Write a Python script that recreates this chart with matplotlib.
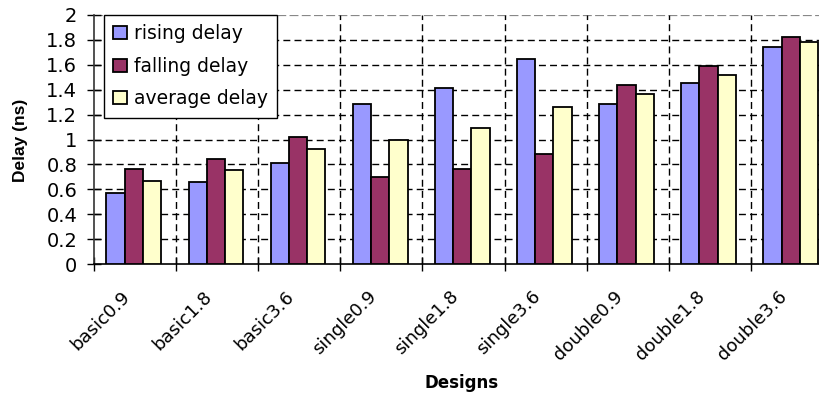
import matplotlib
matplotlib.use("Agg")
import matplotlib.pyplot as plt
import matplotlib.transforms as mtransforms
import numpy as np

designs = ["basic0.9", "basic1.8", "basic3.6", "single0.9", "single1.8",
           "single3.6", "double0.9", "double1.8", "double3.6"]
rising = [0.57, 0.655, 0.81, 1.285, 1.415, 1.645, 1.285, 1.455, 1.74]
falling = [0.765, 0.845, 1.02, 0.695, 0.76, 0.885, 1.44, 1.59, 1.82]
average = [0.67, 0.755, 0.92, 1.0, 1.09, 1.26, 1.365, 1.52, 1.78]
series_names = ["rising delay", "falling delay", "average delay"]
colors = ["#9999FF", "#993366", "#FFFFCC"]
yticks = [0, 0.2, 0.4, 0.6, 0.8, 1, 1.2, 1.4, 1.6, 1.8, 2]
ytick_labels = ["0", "0.2", "0.4", "0.6", "0.8", "1", "1.2", "1.4", "1.6", "1.8", "2"]

plt.rcParams['font.family'] = ['DejaVu Sans']

fig = plt.figure(figsize=(8.2, 3.93), dpi=100)
ax = fig.add_axes([94/820, 1 - 264/393, 739/820, (264 - 15)/393])

n = len(designs)
x = np.arange(n) + 0.5
w = 0.222
for i, (vals, name, c) in enumerate(zip([rising, falling, average], series_names, colors)):
    ax.bar(x + (i - 1) * w - 0.015, vals, width=w, color=c, edgecolor="black",
           linewidth=1.3, label=name, zorder=3)

ax.set_xlim(0, n)
ax.set_ylim(0, 2)
ax.set_yticks(yticks)
ax.set_yticklabels(ytick_labels, fontsize=14)
ax.tick_params(axis='y', direction='inout', length=10, width=1, pad=7)

ax.set_xticks(x)
ax.set_xticklabels(designs, rotation=45, ha='right', rotation_mode='anchor', fontsize=13)
ax.tick_params(axis='x', which='major', length=0, pad=17)
ax.set_xticks(np.arange(n + 1), minor=True)
ax.tick_params(axis='x', which='minor', direction='inout', length=10, width=1)
shift = mtransforms.ScaledTranslation(-14/100, 0, fig.dpi_scale_trans)
for lab in ax.get_xticklabels():
    lab.set_transform(lab.get_transform() + shift)

# grid
for yv in yticks[1:-1]:
    ax.axhline(yv, color='black', linestyle=(0, (5, 3)), linewidth=1, zorder=1)
ax.axhline(2, color='#888888', linestyle=(0, (4, 1.5)), linewidth=1.6, zorder=1)
for xv in range(1, n):
    ax.axvline(xv, color='black', linestyle=(0, (5, 3)), linewidth=1, zorder=1)

for s in ['top', 'right']:
    ax.spines[s].set_visible(False)
ax.spines['left'].set_color('#333333')
ax.spines['left'].set_linewidth(1.2)
ax.spines['bottom'].set_color('black')
ax.spines['bottom'].set_linewidth(1.2)

ax.set_ylabel("Delay (ns)", fontsize=12.5, fontweight='bold',
              family=['Liberation Sans', 'DejaVu Sans'])
ax.yaxis.set_label_coords(-0.0988, 0.498)
ax.yaxis.label.set_va('center')
ax.set_xlabel("Designs", fontsize=12, fontweight='bold')
ax.xaxis.set_label_coords(0.498, -0.478)
ax.xaxis.label.set_va('center')

leg = ax.legend(loc='upper left', bbox_to_anchor=(10/739, 1.0), borderaxespad=0,
                fontsize=13.5, fancybox=False, framealpha=1, edgecolor='black',
                handlelength=0.75, handleheight=0.7, handletextpad=0.35,
                labelspacing=0.72, borderpad=0.5)
leg.get_frame().set_linewidth(1)
leg.set_zorder(5)

fig.savefig("out.png", dpi=100)
